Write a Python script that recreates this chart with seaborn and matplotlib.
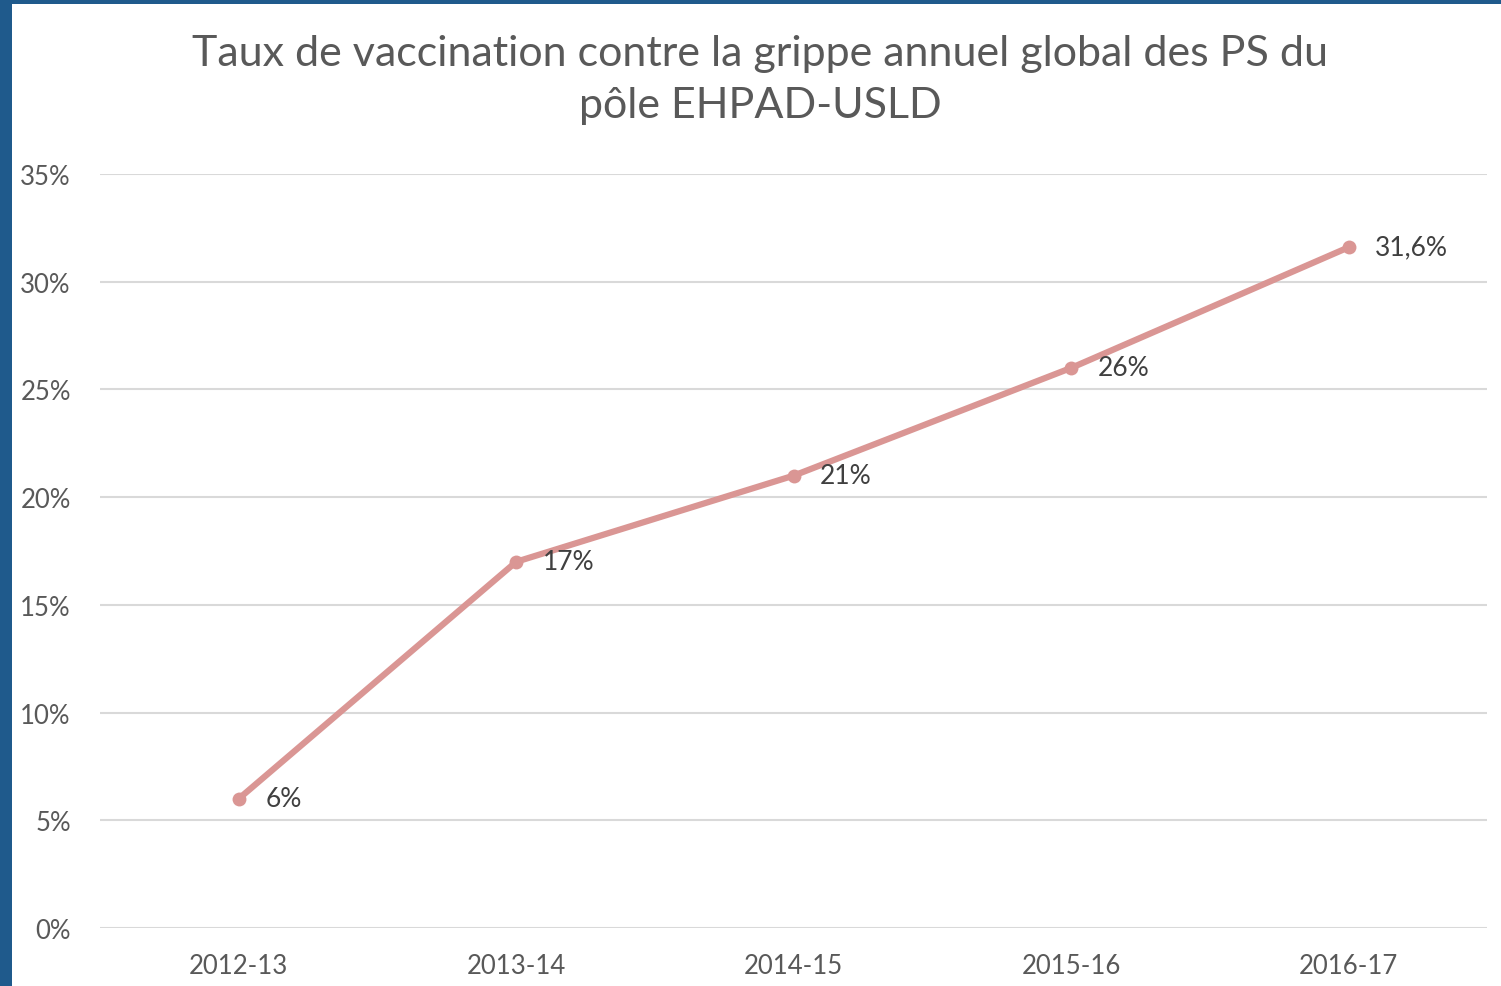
import numpy as np
import pandas as pd
import matplotlib
matplotlib.use("Agg")
import matplotlib.pyplot as plt
import seaborn as sns
from matplotlib.patches import Rectangle

# donnees
saisons = ["2012-13", "2013-14", "2014-15", "2015-16", "2016-17"]
taux = [0.06, 0.17, 0.21, 0.26, 0.316]
etiquettes = ["6%", "17%", "21%", "26%", "31,6%"]

df = pd.DataFrame({"Saison": saisons, "Taux": taux})

sns.set_theme(style="white")
plt.rcParams["font.family"] = ["Lato", "DejaVu Sans"]

gris = "#595959"
rose = "#DA9694"

fig = plt.figure(figsize=(15.01, 9.87), dpi=100, facecolor="#1F5A8C")
# fond blanc du graphique
fig.patches.append(Rectangle((12 / 1501, 0), 1 - 12 / 1501, 1 - 5 / 987,
                             transform=fig.transFigure, facecolor="white",
                             edgecolor="none", zorder=-5))
ax = fig.add_axes([100 / 1501, 1 - 929 / 987, 1387.5 / 1501, 754 / 987])
ax.set_facecolor("none")

sns.lineplot(data=df, x="Saison", y="Taux", ax=ax, color=rose, linewidth=4.5,
             marker="o", markersize=10, markeredgewidth=0, sort=False)

for i, (v, lab) in enumerate(zip(taux, etiquettes)):
    ax.annotate(lab, (i, v), xytext=(19, 0), textcoords="offset points",
                va="center", ha="left", fontsize=19, color="#404040")

ax.set_xlim(-0.5, 4.5)
ax.set_ylim(0, 0.35)
ax.set_yticks(np.arange(0, 0.351, 0.05))
ax.set_yticklabels([f"{int(round(t * 100))}%" for t in np.arange(0, 0.351, 0.05)])
ax.grid(axis="y", color="#D9D9D9", linewidth=1.5)
ax.grid(axis="x", visible=False)
for s in ax.spines.values():
    s.set_visible(False)
ax.tick_params(axis="both", length=0, labelsize=18.5, labelcolor=gris)
ax.tick_params(axis="y", pad=21)
ax.tick_params(axis="x", pad=18)
ax.set_xlabel("")
ax.set_ylabel("")

fig.text(760 / 1501, 1 - 80 / 987,
         "Taux de vaccination contre la grippe annuel global des PS du\npôle EHPAD-USLD",
         ha="center", va="center", fontsize=31, color=gris, linespacing=1.45)

fig.savefig("out.png", dpi=100, facecolor=fig.get_facecolor())
